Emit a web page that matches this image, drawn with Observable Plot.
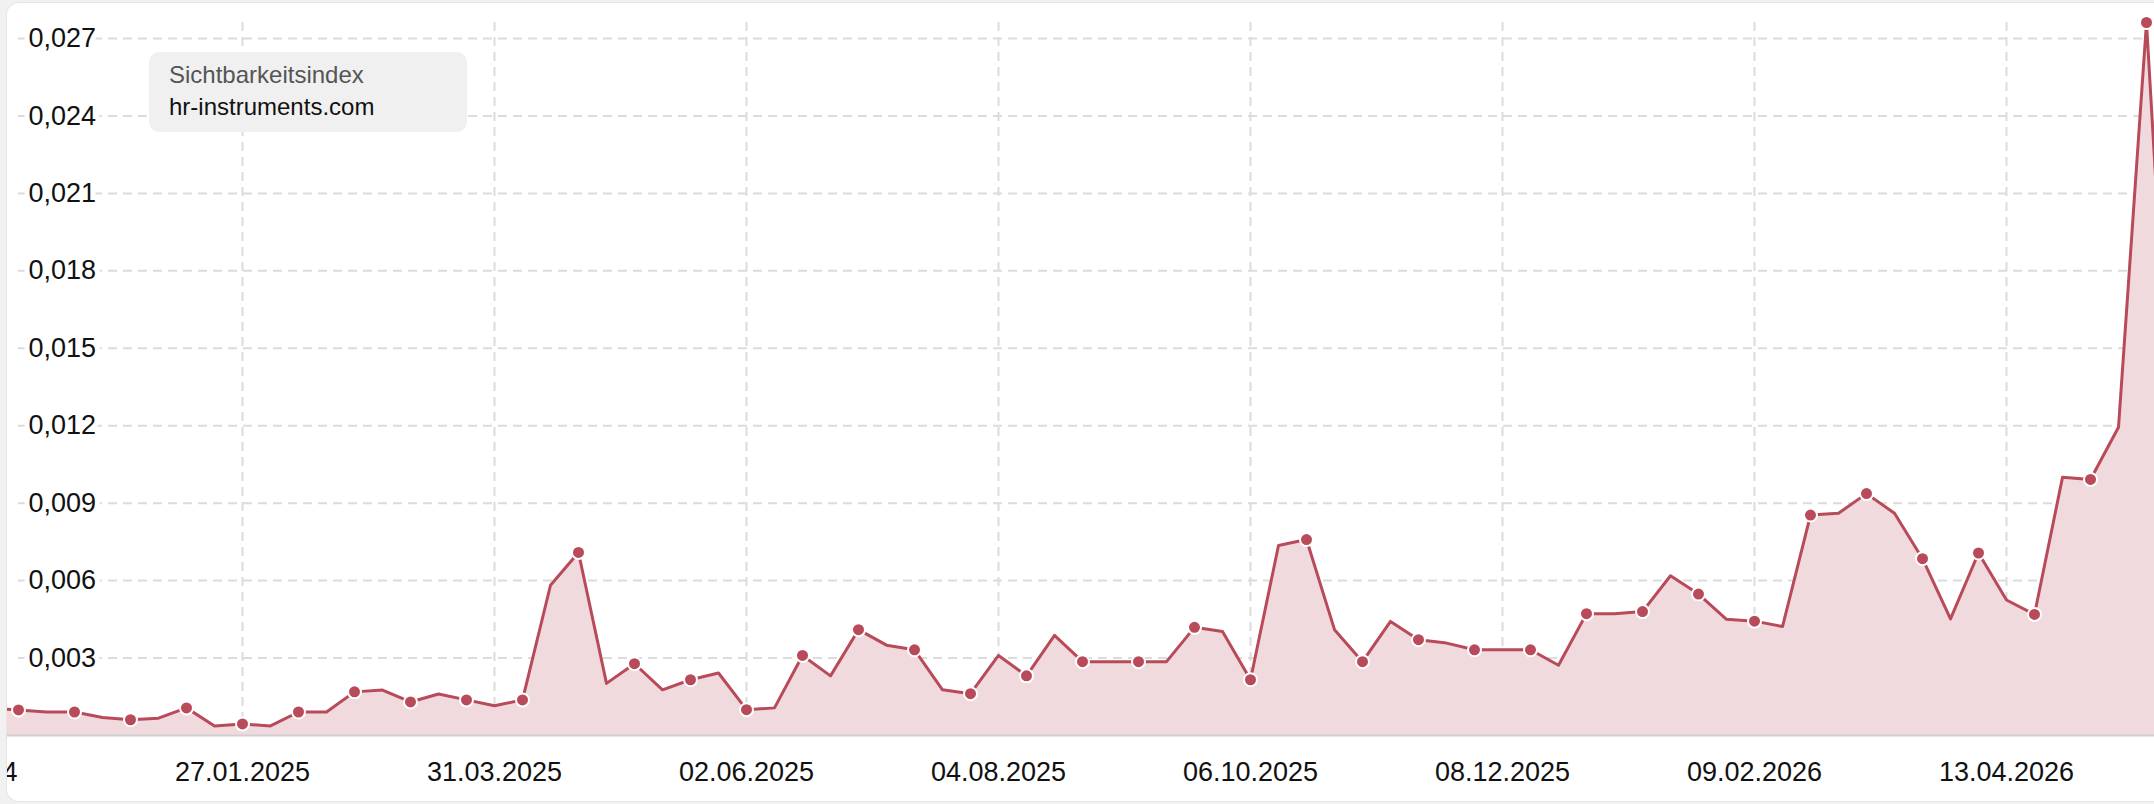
<!DOCTYPE html>
<html>
<head>
<meta charset="utf-8">
<script src="https://cdn.jsdelivr.net/npm/d3@7"></script>
<script src="https://cdn.jsdelivr.net/npm/@observablehq/plot@0.6"></script>
<style>
  html, body { margin: 0; padding: 0; overflow: hidden; background: #f1f1f1; width: 2154px; height: 804px; }
  #card { position: absolute; left: 7px; top: 3px; width: 2200px; height: 798px; background: #fff; border-radius: 12px; overflow: hidden; box-shadow: 0 0 0 1px #e6e6e6; }
  #chart { position: absolute; left: -7px; top: -3px; }
  #legend { position: absolute; left: 142px; top: 49px; width: 318px; height: 80px; box-sizing: border-box; padding: 7px 0 0 20px; background: #f0f0f0; border-radius: 10px; font-family: "Liberation Sans", Arial, sans-serif; font-size: 24px; line-height: 32px; }
  #legend .l1 { color: #555; }
  #legend .l2 { color: #111; }
</style>
</head>
<body>
<div id="card">
  <div id="chart"></div>
  <div id="legend"><div class="l1">Sichtbarkeitsindex</div><div class="l2">hr-instruments.com</div></div>
</div>
<script>
// Weekly dates (Mondays)
const dates = [
  "2024-11-25","2024-12-02","2024-12-09","2024-12-16","2024-12-23","2024-12-30",
  "2025-01-06","2025-01-13","2025-01-20","2025-01-27","2025-02-03","2025-02-10",
  "2025-02-17","2025-02-24","2025-03-03","2025-03-10","2025-03-17","2025-03-24",
  "2025-03-31","2025-04-07","2025-04-14","2025-04-21","2025-04-28","2025-05-05",
  "2025-05-12","2025-05-19","2025-05-26","2025-06-02","2025-06-09","2025-06-16",
  "2025-06-23","2025-06-30","2025-07-07","2025-07-14","2025-07-21","2025-07-28",
  "2025-08-04","2025-08-11","2025-08-18","2025-08-25","2025-09-01","2025-09-08",
  "2025-09-15","2025-09-22","2025-09-29","2025-10-06","2025-10-13","2025-10-20",
  "2025-10-27","2025-11-03","2025-11-10","2025-11-17","2025-11-24","2025-12-01",
  "2025-12-08","2025-12-15","2025-12-22","2025-12-29","2026-01-05","2026-01-12",
  "2026-01-19","2026-01-26","2026-02-02","2026-02-09","2026-02-16","2026-02-23",
  "2026-03-02","2026-03-09","2026-03-16","2026-03-23","2026-03-30","2026-04-06",
  "2026-04-13","2026-04-20","2026-04-27","2026-05-04","2026-05-11","2026-05-18",
  "2026-05-25"
];
const values = [
  0.00105, 0.00099, 0.00091, 0.00091, 0.00070, 0.00061,
  0.00067, 0.00107, 0.00037, 0.00045, 0.00037, 0.00091,
  0.00091, 0.00169, 0.00176, 0.00130, 0.00161, 0.00138,
  0.00115, 0.00138, 0.00582, 0.00709, 0.00202, 0.00278,
  0.00177, 0.00216, 0.00242, 0.00100, 0.00107, 0.00310,
  0.00231, 0.00410, 0.00350, 0.00332, 0.00177, 0.00162,
  0.00310, 0.00231, 0.00388, 0.00286, 0.00286, 0.00286,
  0.00286, 0.00419, 0.00403, 0.00216, 0.00736, 0.00759,
  0.00410, 0.00286, 0.00442, 0.00371, 0.00358, 0.00332,
  0.00332, 0.00332, 0.00272, 0.00472, 0.00472, 0.00480,
  0.00619, 0.00548, 0.00450, 0.00443, 0.00422, 0.00854,
  0.00861, 0.00937, 0.00861, 0.00685, 0.00452, 0.00707,
  0.00525, 0.00469, 0.01000, 0.00992, 0.01194, 0.02762,
  0.00900
];
const xTickDates = ["2024-11-25","2025-01-27","2025-03-31","2025-06-02","2025-08-04","2025-10-06","2025-12-08","2026-02-09","2026-04-13"];
const yTicks = [0.003, 0.006, 0.009, 0.012, 0.015, 0.018, 0.021, 0.024, 0.027];
const xDomain = ["2024-12-02", "2026-05-18"];
const yMax = 0.02762;

const parse = d3.utcParse("%Y-%m-%d");
const data = dates.map((d, i) => ({date: parse(d), value: values[i], i}));
const markers = data.filter(d => d.i % 2 === 1);
const xTicks = xTickDates.map(parse);
const fmtDate = d3.utcFormat("%d.%m.%Y");
const fmtY = v => d3.format(".3f")(v).replace(".", ",");

const red = "#b84a5a";
const grid = "#dcdcdc";
const font = "Liberation Sans, Arial, sans-serif";

const chart = Plot.plot({
  width: 2154,
  height: 804,
  marginLeft: 18,
  marginRight: 8,
  marginTop: 22,
  marginBottom: 69,
  style: {background: "transparent", fontFamily: font, fontSize: "27px", color: "#111"},
  x: {type: "utc", domain: xDomain.map(parse), axis: null},
  y: {domain: [0, yMax], axis: null},
  marks: [
    Plot.ruleY(yTicks, {stroke: grid, strokeWidth: 2, strokeDasharray: "9,6"}),
    Plot.ruleX(xTicks.slice(1), {stroke: grid, strokeWidth: 2, strokeDasharray: "9,6"}),
    Plot.areaY(data, {x: "date", y: "value", fill: "#f0dadd"}),
    Plot.ruleY([0], {x1: data[0].date, x2: data[data.length - 1].date, stroke: "#cfcfcf", strokeWidth: 2}),
    Plot.lineY(data, {x: "date", y: "value", stroke: red, strokeWidth: 3, strokeLinejoin: "round"}),
    Plot.dot(markers, {x: "date", y: "value", r: 6.5, fill: red, stroke: "white", strokeWidth: 2}),
    Plot.text(yTicks, {y: d => d, text: fmtY, frameAnchor: "left", dx: 10, textAnchor: "start",
      fontSize: 27, fill: "#111", stroke: "white", strokeWidth: 10, paintOrder: "stroke"}),
    Plot.text(xTicks.slice(1), {x: d => d, text: fmtDate, frameAnchor: "bottom", lineAnchor: "top", dy: 26,
      fontSize: 27, fill: "#111"}),
    Plot.text(xTicks.slice(0, 1), {x: d => d, text: fmtDate, frameAnchor: "bottom", lineAnchor: "top", dy: 26,
      dx: 27, textAnchor: "end", fontSize: 27, fill: "#111"})
  ]
});
document.getElementById("chart").appendChild(chart);
</script>
</body>
</html>
